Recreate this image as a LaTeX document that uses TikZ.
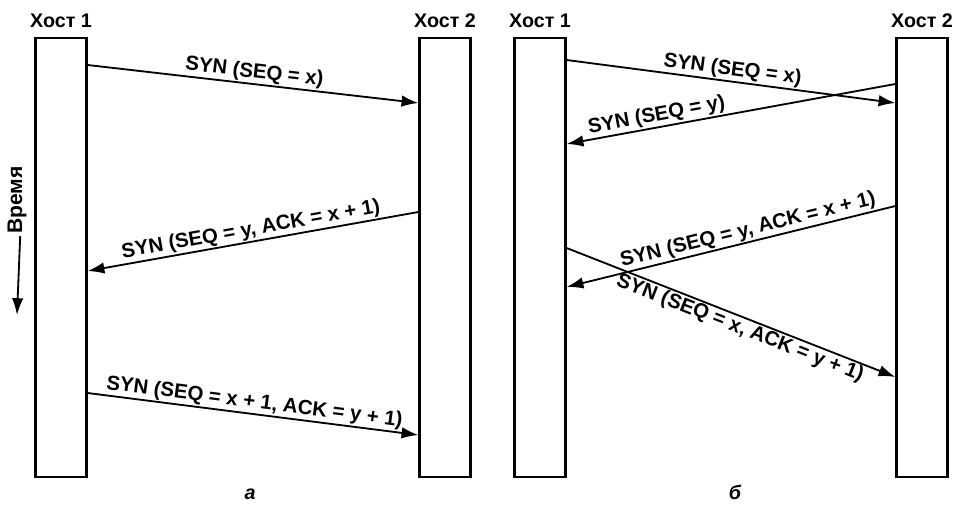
\documentclass[tikz,border=0pt]{standalone}
\usepackage{fontspec}
\setmainfont{Liberation Sans}
\usetikzlibrary{arrows.meta, positioning}

\begin{document}
\begin{tikzpicture}[>={Latex[length=4.2mm, width=2.9mm]}, x=0.25mm, y=-0.25mm, line width=1.3pt,
  hostbox/.style={draw, line width=1.6pt, minimum width=12.75mm, minimum height=109.75mm, inner sep=0pt},
  hostlbl/.style={font=\bfseries\fontsize{14}{16}\selectfont, inner sep=1pt},
  msg/.style={font=\bfseries\fontsize{14.5}{16}\selectfont, sloped, inner sep=0.8pt},
  figcap/.style={font=\bfseries\itshape\fontsize{14}{16}\selectfont}]
  \useasboundingbox (0,0) rectangle (960,504);
  % а: обычное соединение
  \node[hostbox] (h1a) at (61,257.5) {};
  \node[hostbox] (h2a) at (445,257.5) {};
  \node[hostlbl, above=1.6mm of h1a] (l1a) {Хост 1};
  \node[hostlbl, above=1.6mm of h2a] (l2a) {Хост 2};
  \draw[->] (h1a.east |- 0,65) -- node[msg, above] {SYN (SEQ = x)} (h2a.west |- 0,103);
  \draw[->] (h2a.west |- 0,212) -- node[msg, above] {SYN (SEQ = y, ACK = x + 1)} (h1a.east |- 0,271);
  \draw[->] (h1a.east |- 0,393) -- node[msg, above] {SYN (SEQ = x + 1, ACK = y + 1)} (h2a.west |- 0,435);
  % Время
  \node[hostlbl, rotate=90, font=\bfseries\fontsize{15}{16}\selectfont] (time) at (17,200) {Время};
  \coordinate (tend) at (17,315);
  \draw[->] ([xshift=0.8mm]time.west) -- (tend);
  \node[figcap] (capa) at (250,494) {а};
  % б: одновременное соединение
  \node[hostbox] (h1b) at (540,257.5) {};
  \node[hostbox] (h2b) at (922,257.5) {};
  \node[hostlbl, above=1.6mm of h1b] (l1b) {Хост 1};
  \node[hostlbl, above=1.6mm of h2b] (l2b) {Хост 2};
  \draw[->] (h1b.east |- 0,60) -- node[msg, above] {SYN (SEQ = x)} (h2b.west |- 0,103);
  \draw[->] (h2b.west |- 0,84) -- node[msg, above, pos=0.72] {SYN (SEQ = y)} (h1b.east |- 0,144);
  \draw[->] (h2b.west |- 0,206) -- node[msg, above, pos=0.44] {SYN (SEQ = y, ACK = x + 1)} (h1b.east |- 0,287);
  \draw[->] (h1b.east |- 0,248) -- node[msg, below, pos=0.54] {SYN (SEQ = x, ACK = y + 1)} (h2b.west |- 0,377);
  \node[figcap] (capb) at (735,492) {б};
\end{tikzpicture}
\end{document}
